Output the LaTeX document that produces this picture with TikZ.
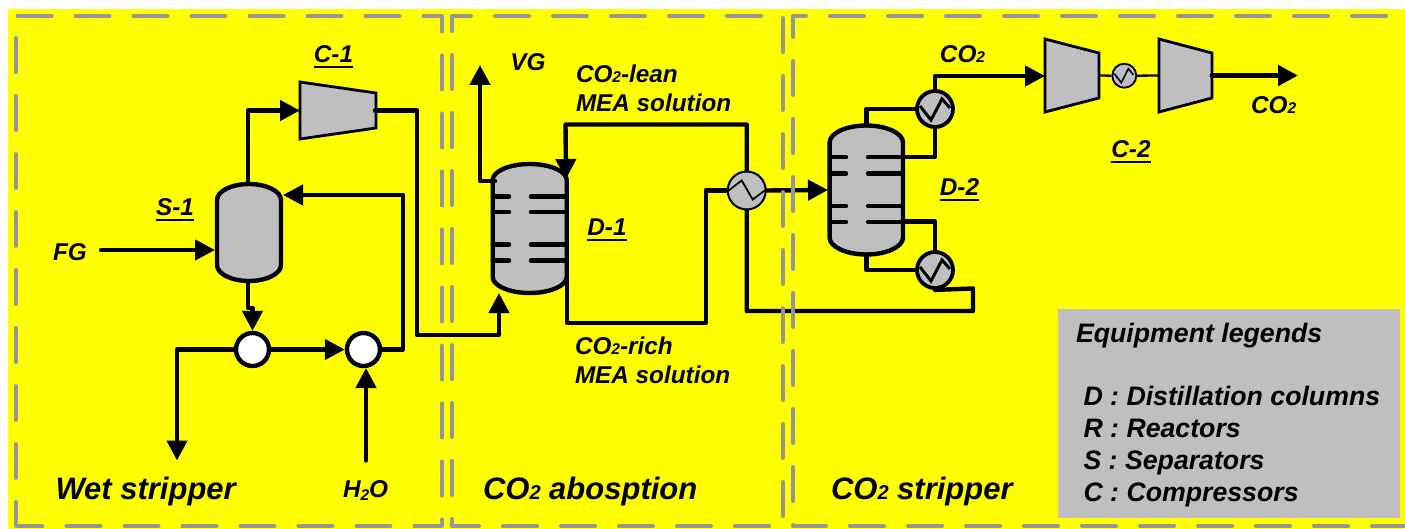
\documentclass[tikz,border=0pt]{standalone}
\usepackage{fontspec}
\setmainfont{Liberation Sans}
\usetikzlibrary{arrows.meta,shapes.geometric}
\definecolor{eqgray}{RGB}{191,191,191}
\definecolor{dashgray}{RGB}{150,150,150}
\definecolor{zoneyellow}{RGB}{255,255,0}
\newcommand\ulab[1]{\setbox0=\hbox{#1}\hbox{\rlap{\vrule height -3pt depth 5.5pt width \wd0}\box0}}
\newcommand\smtwo{{\fontsize{15.5}{15.5}\selectfont 2}}
\tikzset{
  x=1pt,y=-1pt,
  pipe/.style={line width=4.4pt,line join=round,line cap=round},
  flow/.style={pipe,-{Triangle[length=20pt,width=20pt]}},
  zone/.style={draw=dashgray,line width=4pt,line cap=round,line join=round,dash pattern=on 34pt off 24pt,dash phase=56pt},
  mixer/.style={circle,draw,fill=white,line width=4.4pt,minimum size=33pt,inner sep=0pt},
  hxa/.style={circle,draw,fill=eqgray,line width=2pt,minimum size=38pt,inner sep=0pt},
  hxb/.style={circle,draw,fill=eqgray,line width=3.8pt,minimum size=36pt,inner sep=0pt},
  hxc/.style={circle,draw,fill=eqgray,line width=1.8pt,minimum size=24pt,inner sep=0pt},
  lab/.style={inner sep=0pt,outer sep=0pt,font=\fontsize{24.3}{29}\selectfont\bfseries\itshape},
  biglab/.style={inner sep=0pt,outer sep=0pt,font=\fontsize{31}{31}\selectfont\bfseries\itshape},
  leglab/.style={inner sep=0pt,outer sep=0pt,font=\fontsize{26.7}{32}\selectfont\bfseries\itshape},
  eqbody/.style={draw,fill=eqgray,line join=miter},
  port/.style={inner sep=0pt,outer sep=0pt,draw=none,fill=none}
}
\newcommand\vessel[6]{%
  \draw[eqbody,line width=4.4pt] (#2-#5,#3+#6) .. controls +(0,-0.55*#6) and +(-0.55*#5,0) .. (#2,#3)
    .. controls +(0.55*#5,0) and +(0,-0.55*#6) .. (#2+#5,#3+#6) -- (#2+#5,#4-#6)
    .. controls +(0,0.55*#6) and +(0.55*#5,0) .. (#2,#4)
    .. controls +(-0.55*#5,0) and +(0,0.55*#6) .. (#2-#5,#4-#6) -- cycle;
  \node[port,minimum width={2*#5*1pt},minimum height={(#4-#3)*1pt}] (#1) at (#2,{(#3+#4)/2}) {};
}
\newcommand\compressor[6]{%
  \draw[eqbody,line width=2.8pt] (#2,#4) -- (#3,#4+#6) -- (#3,#5-#6) -- (#2,#5) -- cycle;
  \node[port,minimum width={(#3-#2)*1pt},minimum height={(#5-#4)*1pt}] (#1) at ({(#2+#3)/2},{(#4+#5)/2}) {};
}
\newcommand\trays[6]{%
  \foreach \yy in {#5}{
    \draw[pipe] (#1,\yy) -- (#2,\yy);
    \draw[pipe] (#3,\yy) -- (#4,\yy);
  }
}
\begin{document}
\begin{tikzpicture}
\useasboundingbox (0,0) rectangle (1405,529);
\fill[white] (0,0) rectangle (1405,529);
\fill[zoneyellow] (8,9) rectangle (1405,529);
\fill[eqgray] (1058,309) rectangle (1400,518);

% equipment
\compressor{C1}{300}{376}{82}{139}{11}
\vessel{S1}{249}{184}{281}{32}{16}
\node[mixer] (M1) at (252.5,349.5) {};
\node[mixer] (M2) at (363.5,349.5) {};
\vessel{D1}{529.7}{164}{293}{37}{16}
\trays{493}{509}{531}{566}{196.7,212.3,244.7,260.7}{}
\node[hxa] (H1) at (746.7,190.5) {};
\draw[line width=1.8pt] (H1.center) ++(-18,0) -- ++(13,-10) -- ++(11,19) -- ++(12,-9);
\vessel{D2}{866.3}{125.5}{254.5}{36.7}{17}
\trays{830}{846}{868}{903}{157.3,173.7,206,222}{}
\node[hxb] (H2) at (935,109) {};
\draw[line width=3pt] (H2.center) ++(-15,-3) -- ++(11,14) -- ++(11,-21) -- ++(8,9);
\node[hxb] (H3) at (935,270) {};
\draw[line width=3pt] (H3.center) ++(-15,-3) -- ++(11,14) -- ++(11,-21) -- ++(8,9);
\compressor{C2a}{1045}{1099}{39}{112}{14}
\node[hxc] (H4) at (1124.3,75.7) {};
\draw[line width=1.6pt] (H4.center) ++(-10,-2) -- ++(7,9) -- ++(7,-14) -- ++(5,6);
\compressor{C2b}{1159}{1212}{39}{112}{14}

% free ends and ports
\coordinate (FGs) at (101,250);
\coordinate (S1in) at (215,250);
\coordinate (S1rec) at (283,195);
\coordinate (S1top) at (248,184);
\coordinate (S1bot) at (248,283);
\coordinate (C1in) at (300,110.5);
\coordinate (C1out) at (375,110.5);
\coordinate (purge) at (177,460.5);
\coordinate (H2Os) at (366,460.5);
\coordinate (M2in) at (366,368);
\coordinate (D1in) at (499,293);
\coordinate (VGe) at (480,65);
\coordinate (D1vent) at (495,181);
\coordinate (D1lean) at (566,179);
\coordinate (D1rich) at (567,276);
\coordinate (D2feed) at (828,190);
\coordinate (D2u) at (903,157);
\coordinate (D2l) at (903,221.5);
\coordinate (C2ain) at (1045,76);
\coordinate (out) at (1298,75.5);

% connectors
\draw[flow] (S1top) -- (248,110.5) -- (C1in);
\draw[flow] (C1out) -- (417,110.5) -- (417,335) -- (499,335) -- (D1in);
\draw[flow] (FGs) -- (S1in);
\draw[flow] (S1bot) -- (248,308) -- (252.5,308) -- (M1.north);
\draw[flow] (M1.west) -- (177,349.5) -- (purge);
\draw[flow] (M1.east) -- (M2.west);
\draw[flow] (M2.east) -- (403,349.5) -- (403,195) -- (S1rec);
\draw[flow] (H2Os) -- (M2in);
\draw[flow] (D1vent) -- (480,181) -- (VGe);
\draw[flow] (H1.north) -- (746.7,124.5) -- (565.5,124.5) -- (D1lean);
\draw[pipe] (D1rich) -- (567,322.7) -- (706,322.7) -- (706,190.5) -- (H1.west);
\draw[pipe] (H1.south) -- (746.7,311) -- (973,311) -- (973,288.5) -- (H3.south);
\draw[flow] (H1.east) -- (D2feed);
\draw[pipe] (D2.north) -- (866.3,109) -- (H2.west);
\draw[flow] (H2.north) -- (935,76) -- (C2ain);
\draw[pipe] (H2.south) -- (935,157) -- (D2u);
\draw[pipe] (D2l) -- (935,221.5) -- (H3.north);
\draw[pipe] (D2.south) -- (866.3,270) -- (H3.west);
\draw[line width=2.3pt] (C2a.east) -- (H4.west);
\draw[line width=2.3pt] (H4.east) -- (C2b.west);
\draw[line width=5pt,line cap=round,-{Triangle[length=20pt,width=20pt]}] (C2b.east) -- (out);

% zone frames
\draw[zone] (15.5,16) -- (442,16) -- (442,526) -- (17,526);
\draw[zone] (15.5,36) -- (15.5,526);
\draw[zone] (783,16) -- (783,526) -- (452,526) -- (452,16) -- (480,16) -- (762,16);
\draw[zone] (828,526) -- (793,526) -- (793,16) -- (1405,16);
\draw[zone] (848,526) -- (1405,526);

% labels
\node[lab,anchor=base] (tC1) at (333.5,63) {\ulab{C-1}};
\node[lab,anchor=base] (tS1) at (175,216) {\ulab{S-1}};
\node[lab,anchor=base] (tFG) at (70,260.5) {FG};
\node[lab,anchor=base west] (tH2O) at (343,497.5) {H{\fontsize{15.5}{15.5}\selectfont\raisebox{-3pt}{2}}O};
\node[biglab,anchor=base west] (tW) at (55.5,499) {Wet stripper};
\node[lab,anchor=base] (tVG) at (528,70.5) {VG};
\node[lab,anchor=north west,align=left] (tLean) at (576,64.5) {CO\smtwo-lean\\MEA solution};
\node[lab,anchor=north west,align=left] (tRich) at (575,336.5) {CO\smtwo-rich\\MEA solution};
\node[lab,anchor=base] (tD1) at (607,236) {\ulab{D-1}};
\node[biglab,anchor=base west] (tAb) at (483,499) {CO{\fontsize{20}{20}\selectfont 2} abosption};
\node[lab,anchor=base] (tD2) at (959.5,196) {\ulab{D-2}};
\node[lab,anchor=base] (tCa) at (962.5,62.5) {CO\smtwo};
\node[lab,anchor=base] (tCb) at (1273.6,114) {CO\smtwo};
\node[lab,anchor=base] (tC2) at (1131,158) {\ulab{C-2}};
\node[biglab,anchor=base west] (tSt) at (831,499) {CO{\fontsize{20}{20}\selectfont 2} stripper};
\node[leglab,anchor=base west] (tLeg) at (1076,342.5) {Equipment legends};
\node[leglab,anchor=north west,align=left] (tList) at (1083.5,386.5) {D : Distillation columns\\R : Reactors\\S : Separators\\C : Compressors};
\end{tikzpicture}
\end{document}
